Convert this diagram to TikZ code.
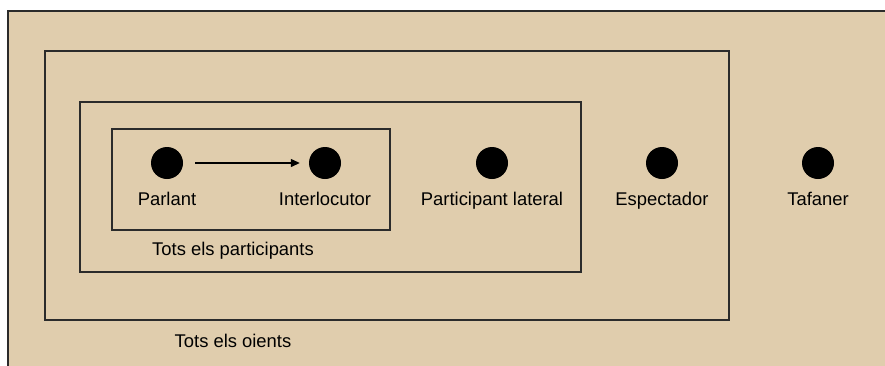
\documentclass[tikz,border=0pt]{standalone}
\usepackage{fontspec}
\setmainfont{Liberation Sans}
\definecolor{mybeige}{HTML}{E0CDAD}
\definecolor{myline}{HTML}{2B2B2B}
\usetikzlibrary{arrows.meta, positioning}
\tikzset{
	persona/.style={
			circle,
			fill=black,
			draw=none,
			minimum size=32pt,
			inner sep=0pt
		},
	grup/.style={
			font=\fontsize{18.4}{20}\selectfont,
			inner sep=0pt,
			anchor=base
		},
	capsa/.style={
			draw=myline,
			line width=1.6pt
		}
}

\begin{document}
\begin{tikzpicture}[x=1pt, y=-1pt]
\useasboundingbox (0,0) rectangle (885,365);
\begin{scope}
\clip (0,0) rectangle (885,365);
\filldraw[fill=mybeige, capsa] (8,11) rectangle (900,380);
\end{scope}

% nested circles of hearers
\draw[capsa] (45,51) rectangle (729,320);
\draw[capsa] (80,102) rectangle (581,272);
\draw[capsa] (112,129) rectangle (390,230);

\node[persona] (parlant) at (167,163) {};
\node[persona] (interl) at (325,163) {};
\node[persona] (lateral) at (492,163) {};
\node[persona] (espect) at (662,163) {};
\node[persona] (tafaner) at (818,163) {};

\node[grup] (lparlant) at (167,205) {Parlant};
\node[grup] (linterl) at (325,205) {Interlocutor};
\node[grup] (llateral) at (492,205) {Participant lateral};
\node[grup] (lespect) at (662,205) {Espectador};
\node[grup] (ltafaner) at (818,205) {Tafaner};

\node[grup] (participants) at (233,255) {Tots els participants};
\node[grup] (oients) at (233,347) {Tots els oients};

\draw[line width=1.3pt, -{Triangle[length=9pt, width=8pt]}, shorten <=12pt, shorten >=9pt] (parlant) -- (interl);
\end{tikzpicture}
\end{document}
